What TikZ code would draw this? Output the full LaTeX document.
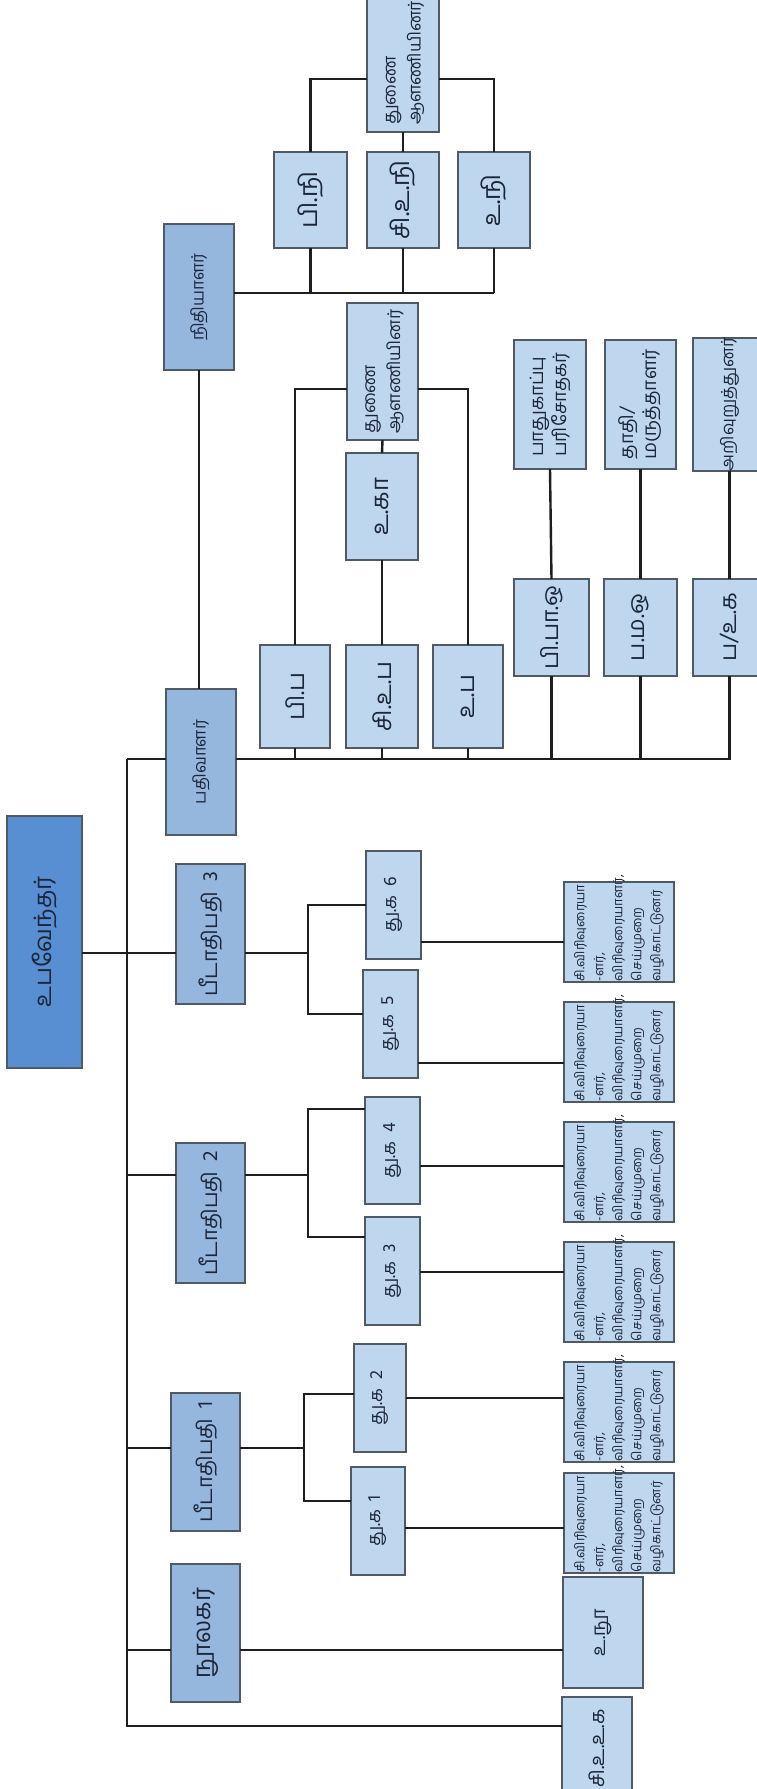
\documentclass[tikz,border=0pt]{standalone}
\usepackage{fontspec}
\setmainfont{Hind Madurai}[Script=Tamil]
\usepackage{graphicx}
\definecolor{cA}{RGB}{88,142,210}
\definecolor{cB}{RGB}{149,182,221}
\definecolor{cC}{RGB}{190,214,238}
\definecolor{bord}{RGB}{80,90,102}
\definecolor{txt}{RGB}{28,38,58}
\definecolor{lin}{RGB}{30,30,30}
\newcommand\fsz[2]{\fontsize{#1}{#2}\selectfont}
\newcommand\twol[2]{\begin{tabular}{@{}l@{}}#1\\#2\end{tabular}}
\newcommand\leaftext{\parbox{98pt}{\raggedright\fsz{13}{19}சி.விரிவுரையா\\-ளர்,\\விரிவுரையாளர்,\\செய்முறை\\வழிகாட்டுனர்}}
\tikzset{
  box/.style={draw=bord, line width=1.5pt, inner sep=0pt, outer sep=0pt, text=txt},
  lv0/.style={box, fill=cA},
  lv1/.style={box, fill=cB},
  lv2/.style={box, fill=cC},
  conn/.style={draw=lin, line width=2.4pt},
}
\begin{document}
\begin{tikzpicture}[x=1pt,y=-1pt]
\useasboundingbox (0,0) rectangle (757,1789);
\fill[white] (0,0) rectangle (757,1789);
\clip (0,0) rectangle (757,1789);

% ---------- nodes ----------
\node[lv0, minimum width=75pt, minimum height=252pt] (root) at (44.5,942) {\rotatebox{90}{\fsz{24}{28}உபவேந்தர்}};
\node[lv1, minimum width=70pt, minimum height=146pt] (reg) at (201,762) {\rotatebox{90}{\fsz{17}{20}பதிவாளர்}};
\node[lv1, minimum width=70pt, minimum height=146pt] (nid) at (199,297) {\rotatebox{90}{\fsz{17}{20}நிதியாளர்}};
\node[lv1, minimum width=69pt, minimum height=140pt] (pid3) at (210.5,934) {\rotatebox{90}{\fsz{21}{24}பீடாதிபதி\ \ 3}};
\node[lv1, minimum width=69pt, minimum height=140pt] (pid2) at (210.5,1213) {\rotatebox{90}{\fsz{21}{24}பீடாதிபதி\ \ 2}};
\node[lv1, minimum width=69pt, minimum height=138pt] (pid1) at (205.5,1462) {\rotatebox{90}{\fsz{21}{24}பீடாதிபதி\ \ 1}};
\node[lv1, minimum width=69pt, minimum height=138pt] (lib) at (205.5,1633) {\rotatebox{90}{\fsz{24}{28}நூலகர்}};

\node[lv2, minimum width=55pt, minimum height=108pt] (tk6) at (393.5,905) {\rotatebox{90}{\fsz{18}{22}து.க\ \ 6}};
\node[lv2, minimum width=55pt, minimum height=108pt] (tk5) at (390.5,1024) {\rotatebox{90}{\fsz{18}{22}து.க\ \ 5}};
\node[lv2, minimum width=55pt, minimum height=107pt] (tk4) at (392.5,1150.5) {\rotatebox{90}{\fsz{18}{22}து.க\ \ 4}};
\node[lv2, minimum width=55pt, minimum height=108pt] (tk3) at (392.5,1271) {\rotatebox{90}{\fsz{18}{22}து.க\ \ 3}};
\node[lv2, minimum width=52pt, minimum height=108pt] (tk2) at (380,1398) {\rotatebox{90}{\fsz{18}{22}து.க\ \ 2}};
\node[lv2, minimum width=54pt, minimum height=108pt] (tk1) at (378,1521) {\rotatebox{90}{\fsz{18}{22}து.க\ \ 1}};

\node[lv2, minimum width=110pt, minimum height=100pt] (c6) at (619,932) {\rotatebox{90}{\leaftext}};
\node[lv2, minimum width=110pt, minimum height=100pt] (c5) at (619,1052) {\rotatebox{90}{\leaftext}};
\node[lv2, minimum width=110pt, minimum height=100pt] (c4) at (619,1172) {\rotatebox{90}{\leaftext}};
\node[lv2, minimum width=110pt, minimum height=100pt] (c3) at (619,1292) {\rotatebox{90}{\leaftext}};
\node[lv2, minimum width=110pt, minimum height=100pt] (c2) at (619,1412) {\rotatebox{90}{\leaftext}};
\node[lv2, minimum width=110pt, minimum height=100pt] (c1) at (619,1523) {\rotatebox{90}{\leaftext}};

\node[lv2, minimum width=80pt, minimum height=111pt] (unu) at (603,1632.5) {\rotatebox{90}{\fsz{19}{22}உ.நூ}};
\node[lv2, minimum width=70pt, minimum height=103pt] (suk) at (597,1748.5) {\rotatebox{90}{\fsz{20}{24}சி.உ.உ.க}};

\node[lv2, minimum width=70pt, minimum height=103pt] (pp) at (295,696.5) {\rotatebox{90}{\fsz{24}{28}பி.ப}};
\node[lv2, minimum width=72pt, minimum height=103pt] (sup) at (382,696.5) {\rotatebox{90}{\fsz{24}{28}சி.உ.ப}};
\node[lv2, minimum width=70pt, minimum height=103pt] (up) at (468,696.5) {\rotatebox{90}{\fsz{24}{28}உ.ப}};
\node[lv2, minimum width=72pt, minimum height=107pt] (uka) at (382,506.5) {\rotatebox{90}{\fsz{24}{28}உ.கா}};
\node[lv2, minimum width=71pt, minimum height=137pt] (midT) at (382.5,371.5) {\rotatebox{90}{\fsz{17.5}{25}\twol{துணை}{ஆளணியினர்}}};

\node[lv2, minimum width=75pt, minimum height=97pt] (ppo) at (551.5,627.5) {\rotatebox{90}{\fsz{23}{27}பி.பா.ஒ}};
\node[lv2, minimum width=73pt, minimum height=97pt] (pmo) at (640.5,627.5) {\rotatebox{90}{\fsz{23}{27}ப.ம.ஒ}};
\node[lv2, minimum width=73pt, minimum height=97pt] (puk) at (729.5,627.5) {\rotatebox{90}{\fsz{23}{27}ப/உ.க}};
\node[lv2, minimum width=72pt, minimum height=129pt] (sec) at (550,404.5) {\rotatebox{90}{\fsz{18.5}{23}\twol{பாதுகாப்பு}{பரிசோதகர்}}};
\node[lv2, minimum width=71pt, minimum height=129pt] (nurse) at (640.5,404.5) {\rotatebox{90}{\fsz{19}{23}\twol{தாதி/}{மருத்தாளர்}}};
\node[lv2, minimum width=73pt, minimum height=129pt] (instr) at (729.5,404.5) {\rotatebox{90}{\fsz{17}{21}அறிவுறுத்துனர்}};

\node[lv2, minimum width=73pt, minimum height=96pt] (pn) at (310.5,200) {\rotatebox{90}{\fsz{25}{29}பி.நி}};
\node[lv2, minimum width=72pt, minimum height=96pt] (sun) at (403,200) {\rotatebox{90}{\fsz{25}{29}சி.உ.நி}};
\node[lv2, minimum width=72pt, minimum height=96pt] (un) at (494,200) {\rotatebox{90}{\fsz{25}{29}உ.நி}};
\node[lv2, minimum width=72pt, minimum height=138pt] (topT) at (403,63) {\rotatebox{90}{\fsz{17.5}{25}\twol{துணை}{ஆளணியினர்}}};

% ---------- junction coordinates ----------
\coordinate (bt) at (127,759);
\coordinate (bb) at (127,1726);
\coordinate (jr) at (127,953);
\coordinate (j2) at (127,1175);
\coordinate (j1) at (127,1448);
\coordinate (jl) at (127,1650);
\coordinate (v3a) at (308,905);
\coordinate (v3b) at (308,1014);
\coordinate (v3) at (308,953);
\coordinate (v2a) at (308,1109);
\coordinate (v2b) at (308,1237);
\coordinate (v2) at (308,1175);
\coordinate (v1a) at (304,1394);
\coordinate (v1b) at (304,1501);
\coordinate (v1) at (304,1448);
\coordinate (k6) at (500,942);
\coordinate (k5) at (500,1063);
\coordinate (k4) at (500,1166);
\coordinate (k3) at (500,1272);
\coordinate (k2) at (500,1398);
\coordinate (k1) at (500,1528);
\coordinate (rb) at (729.5,759);
\coordinate (mj) at (400,389);
\coordinate (nj) at (400,293);
\coordinate (tj) at (400,79);

% ---------- connectors ----------
\draw[conn] (bt) -- (bb) -- (bb -| suk.west);
\draw[conn] (bt) -- (bt -| reg.west);
\draw[conn] (root.east |- jr) -- (jr) -- (jr -| pid3.west);
\draw[conn] (j2) -- (j2 -| pid2.west);
\draw[conn] (j1) -- (j1 -| pid1.west);
\draw[conn] (jl) -- (jl -| lib.west);
\draw[conn] (jl -| lib.east) -- (jl -| unu.west);

\draw[conn] (jr -| pid3.east) -- (v3);
\draw[conn] (v3a -| tk6.west) -- (v3a) -- (v3b) -- (v3b -| tk5.west);
\draw[conn] (j2 -| pid2.east) -- (v2);
\draw[conn] (v2a -| tk4.west) -- (v2a) -- (v2b) -- (v2b -| tk3.west);
\draw[conn] (j1 -| pid1.east) -- (v1);
\draw[conn] (v1a -| tk2.west) -- (v1a) -- (v1b) -- (v1b -| tk1.west);

\draw[conn] (tk6.east |- k6) -- (k6 -| c6.west);
\draw[conn] (tk5.east |- k5) -- (k5 -| c5.west);
\draw[conn] (tk4.east |- k4) -- (k4 -| c4.west);
\draw[conn] (tk3.east |- k3) -- (k3 -| c3.west);
\draw[conn] (tk2.east |- k2) -- (k2 -| c2.west);
\draw[conn] (tk1.east |- k1) -- (k1 -| c1.west);

\draw[conn] (bt -| reg.east) -- (rb) -- (puk.south);
\draw[conn] (pp.south) -- (pp.south |- rb);
\draw[conn] (sup.south) -- (sup.south |- rb);
\draw[conn] (up.south) -- (up.south |- rb);
\draw[conn] (ppo.south) -- (ppo.south |- rb);
\draw[conn] (pmo.south) -- (pmo.south |- rb);
\draw[conn] (pp.north) -- (pp.north |- mj) -- (mj -| midT.west);
\draw[conn] (up.north) -- (up.north |- mj) -- (mj -| midT.east);
\draw[conn] (sup.north) -- (uka.south);
\draw[conn] (uka.north) -- (midT.south);
\draw[conn] (ppo.north) -- (sec.south);
\draw[conn] (pmo.north) -- (nurse.south);
\draw[conn] (puk.north) -- (instr.south);

\draw[conn] (nid.south) -- (nid.south |- reg.north);
\draw[conn] (nid.east |- nj) -- (un.south |- nj);
\draw[conn] (pn.south) -- (pn.south |- nj);
\draw[conn] (sun.south) -- (sun.south |- nj);
\draw[conn] (un.south) -- (un.south |- nj);
\draw[conn] (pn.north) -- (pn.north |- tj) -- (tj -| topT.west);
\draw[conn] (topT.east |- tj) -- (un.north |- tj) -- (un.north);
\draw[conn] (sun.north) -- (topT.south);
\end{tikzpicture}
\end{document}
